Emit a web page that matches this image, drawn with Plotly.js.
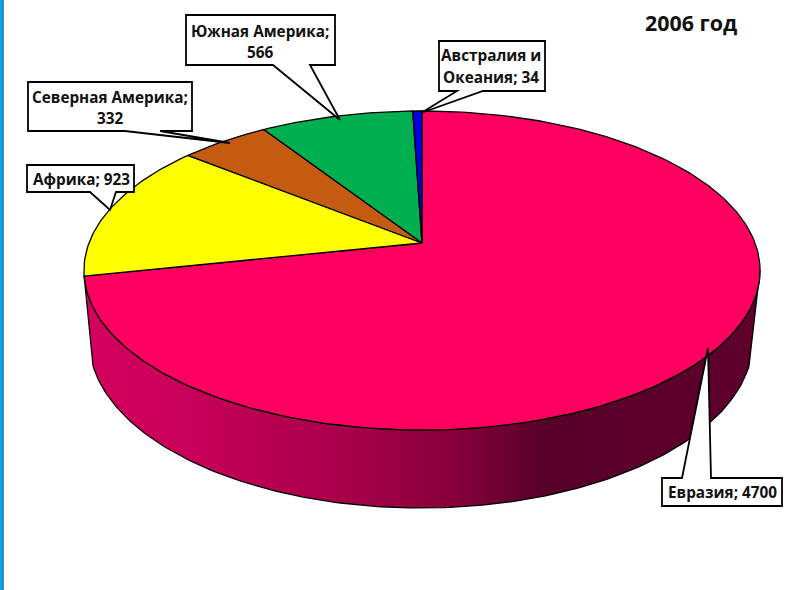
<!DOCTYPE html>
<html><head><meta charset="utf-8">
<script src="https://cdn.plot.ly/plotly-3.0.1.min.js"></script>
<style>html,body{margin:0;padding:0;background:#fff}#c{width:801px;height:590px}</style></head>
<body><div id="c"></div>
<script>
const categories = ["Евразия","Африка","Северная Америка","Южная Америка","Австралия и Океания"];
const values = [4700,923,332,566,34];
const colors = ["#FF0060","#FFFF00","#C55A11","#00B050","#0000E6"];
const titleText = "2006 год";
const labelLines = [
  ["Евразия; 4700"],
  ["Африка; 923"],
  ["Северная Америка;","332"],
  ["Южная Америка;","566"],
  ["Австралия и","Океания; 34"]
];
const labelCenters = [[722,492],[81,179],[110,[97,118]],[260,[31,52]],[491,[55,77]]];
const callouts = [
  "M662,478 L682,478 L708,348 L711,478 L782,478 L782,506 L662,506 Z",
  "M27,165 L134,165 L134,192 L116,192 L110,210 L90,192 L27,192 Z",
  "M28,82 L192,82 L192,131 L160,131 L230,143 L125,131 L28,131 Z",
  "M186,15 L335,15 L335,65 L310,65 L340,120 L273,65 L186,65 Z",
  "M439,41 L545,41 L545,91 L483,91 L421,113 L457,91 L439,91 Z"
];

// projection of the pie's top face
const cx=422, cy=243, a=333, b=154.8, k=0.1724;
function rim(deg){
  const t=deg*Math.PI/180, u=Math.sin(t), v=-Math.cos(t), d=1-k*v;
  return [cx+a*u/d, cy+b*v/d];
}
function arc(from,to,step){
  const pts=[], n=Math.max(2,Math.ceil(Math.abs(to-from)/step));
  for(let i=0;i<=n;i++) pts.push(rim(from+(to-from)*i/n));
  return pts;
}
const total=values.reduce((s,x)=>s+x,0);
const traces=[];
function poly(pts,extra){
  return Object.assign({type:"scatter",mode:"lines",x:pts.map(p=>p[0]),y:pts.map(p=>p[1]),
    fill:"toself",line:{color:"#000",width:1.3,shape:"linear"},hoverinfo:"skip",showlegend:false},extra);
}

// side wall with shading: rim (right to left), then the lower edge (left to right)
const euroEnd=values[0]/total*360;
const ex=421, ey=340, ea=332, eb=168;
const rimPart=arc(99.7,euroEnd,1);
const wallPts=rimPart.slice();
for(let f=171;f>=9;f-=1){
  const r=f*Math.PI/180;
  wallPts.push([ex+ea*Math.cos(r),ey+eb*Math.sin(r)]);
}
wallPts.push(rimPart[0]);
traces.push(poly(wallPts,{fillcolor:"#900040",fillgradient:{type:"horizontal",colorscale:[
  [0,"#D6005F"],[0.17,"#C60058"],[0.38,"#A8004A"],[0.54,"#88003B"],[0.68,"#580029"],[1,"#5E002C"]]}}));

// top face slices
let acc=0;
values.forEach((val,i)=>{
  const s=acc/total*360, e=(acc+val)/total*360; acc+=val;
  const pts=[[cx,cy]].concat(arc(s,e,1)); pts.push([cx,cy]);
  traces.push(poly(pts,{fillcolor:colors[i],name:categories[i]}));
});

const shapes=[
  {type:"rect",xref:"paper",yref:"paper",x0:0,x1:3/801,y0:0,y1:1,fillcolor:"#0AA5E6",line:{width:0}},
  {type:"line",xref:"paper",yref:"paper",x0:3.3/801,x1:3.3/801,y0:0,y1:1,line:{color:"#0B3C6E",width:0.8}}
].concat(callouts.map(p=>({type:"path",path:p,xref:"x",yref:"y",fillcolor:"#fff",line:{color:"#000",width:1.8},layer:"above"})));

const annotations=[];
labelLines.forEach((lines,i)=>{
  const c=labelCenters[i];
  lines.forEach((t,j)=>{
    const y=Array.isArray(c[1])?c[1][j]:c[1];
    annotations.push({text:"<b>"+t+"</b>",x:c[0],y:y,xref:"x",yref:"y",showarrow:false,xanchor:"center",yanchor:"middle",
      font:{family:"Open Sans",size:15.3,color:"#111"}});
  });
});
annotations.push({text:"<b>"+titleText+"</b>",x:691,y:22,xref:"x",yref:"y",showarrow:false,xanchor:"center",yanchor:"middle",
  font:{family:"Open Sans",size:21.4,color:"#111"}});

Plotly.newPlot("c",traces,{
  width:801,height:590,margin:{l:0,r:0,t:0,b:0},paper_bgcolor:"#fff",plot_bgcolor:"#fff",
  xaxis:{range:[0,801],visible:false,fixedrange:true},
  yaxis:{range:[590,0],visible:false,fixedrange:true},
  showlegend:false,shapes,annotations
},{displayModeBar:false,staticPlot:true});
</script></body></html>
